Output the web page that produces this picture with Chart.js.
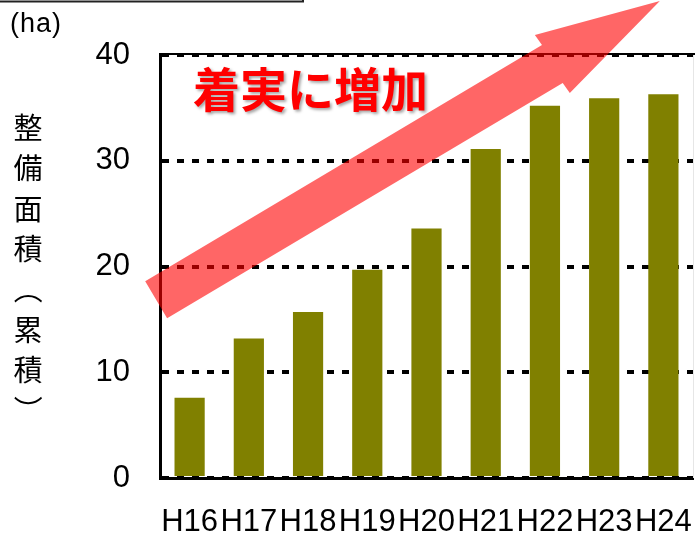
<!DOCTYPE html>
<html>
<head>
<meta charset="utf-8">
<script src="https://cdn.jsdelivr.net/npm/chart.js@4/dist/chart.umd.min.js"></script>
<style>
  html, body { margin: 0; padding: 0; background: #fff; }
  #wrap { width: 695px; height: 536px; position: relative; }
</style>
</head>
<body>
<div id="wrap"><canvas id="c" width="695" height="536"></canvas></div>
<script>
// Fiscal years (Heisei era) and cumulative developed area in hectares
const years = ['H16', 'H17', 'H18', 'H19', 'H20', 'H21', 'H22', 'H23', 'H24'];
const areaHa = [7.6, 13.2, 15.7, 19.7, 23.6, 31.1, 35.2, 35.9, 36.3];
const yTicks = [0, 10, 20, 30, 40];
const unitLabel = '(ha)';
const axisTitleChars = ['整', '備', '面', '積', '（', '累', '積', '）'];
const headline = '着実に増加';
// Trend arrow outline in data space: [category index, value]
const trendArrow = [
  [-0.75, 18.6], [-0.38, 15.1], [6.30, 37.35], [6.42, 36.4],
  [7.94, 45.1], [5.83, 41.9], [5.95, 40.95]
];

const NUM_FONT = '"Liberation Sans Narrow", "Arial Narrow", "Liberation Sans", sans-serif';
const CJK_FONT = '"Noto Sans CJK JP", "Noto Sans", sans-serif';

const decorations = {
  id: 'decorations',
  beforeDraw(chart) {
    const ctx = chart.ctx;
    ctx.save();
    ctx.fillStyle = '#fff';
    ctx.fillRect(0, 0, chart.width, chart.height);
    // bottom edge of the title box above
    ctx.strokeStyle = '#222';
    ctx.lineWidth = 2;
    ctx.strokeRect(-4, -40, 307, 41.5);
    // unit label
    ctx.fillStyle = '#000';
    ctx.font = '27px "Liberation Sans", sans-serif';
    ctx.letterSpacing = '1px';
    ctx.textAlign = 'left';
    ctx.textBaseline = 'middle';
    ctx.fillText(unitLabel, 10, 25);
    ctx.letterSpacing = '0px';
    // vertical axis title, brackets turned for vertical writing
    ctx.font = '29px ' + CJK_FONT;
    ctx.textAlign = 'center';
    axisTitleChars.forEach((ch, i) => {
      const y = 128 + i * 40.3;
      if (ch === '（' || ch === '）') {
        ctx.save();
        ctx.translate(28, y);
        ctx.rotate(Math.PI / 2);
        ctx.fillText(ch, 0, 0);
        ctx.restore();
      } else {
        ctx.fillText(ch, 28, y);
      }
    });
    ctx.restore();
  },
  afterDatasetsDraw(chart) {
    const ctx = chart.ctx;
    const { left, right, top, bottom } = chart.chartArea;
    const xs = chart.scales.x, ys = chart.scales.y;
    ctx.save();
    // solid top frame line and faint right edge
    ctx.strokeStyle = '#000';
    ctx.lineWidth = 2;
    ctx.beginPath();
    ctx.moveTo(left - 1, top - 1);
    ctx.lineTo(right + 2, top - 1);
    ctx.stroke();
    ctx.strokeStyle = '#e6e6e6';
    ctx.lineWidth = 1;
    ctx.beginPath();
    ctx.moveTo(right + 0.5, top);
    ctx.lineTo(right + 0.5, bottom);
    ctx.stroke();

    // translucent trend arrow
    ctx.fillStyle = 'rgba(255, 0, 0, 0.6)';
    ctx.beginPath();
    trendArrow.forEach(([ix, v], i) => {
      const px = xs.getPixelForValue(ix);
      const py = ys.getPixelForValue(v);
      if (i === 0) ctx.moveTo(px, py); else ctx.lineTo(px, py);
    });
    ctx.closePath();
    ctx.fill();

    // headline with drop shadow
    ctx.font = 'bold 47px ' + CJK_FONT;
    ctx.textAlign = 'left';
    ctx.textBaseline = 'middle';
    ctx.shadowColor = 'rgba(0, 0, 0, 0.35)';
    ctx.shadowOffsetX = 2;
    ctx.shadowOffsetY = 2;
    ctx.shadowBlur = 3;
    ctx.fillStyle = '#ff0000';
    ctx.fillText(headline, left + 33, 89);
    ctx.restore();
  }
};

new Chart(document.getElementById('c'), {
  type: 'bar',
  data: {
    labels: years,
    datasets: [{
      data: areaHa,
      backgroundColor: '#808000',
      borderWidth: 0,
      categoryPercentage: 1.0,
      barPercentage: 0.51
    }]
  },
  options: {
    responsive: false,
    devicePixelRatio: 1,
    animation: false,
    layout: { padding: { top: 55, left: 0, right: 2, bottom: 0 } },
    plugins: {
      legend: { display: false },
      title: { display: false },
      tooltip: { enabled: false }
    },
    scales: {
      x: {
        grid: { display: false, drawTicks: false },
        border: { display: true, color: '#000', width: 3 },
        ticks: {
          color: '#000',
          font: { family: NUM_FONT, size: 31 },
          padding: 26,
          maxRotation: 0,
          autoSkip: false
        },
        afterFit(scale) {
          scale.height = 58;
          scale.paddingLeft = 0;
          scale.paddingRight = 0;
        }
      },
      y: {
        min: 0,
        max: 40,
        afterBuildTicks(scale) { scale.ticks = yTicks.map(v => ({ value: v })); },
        grid: { color: '#000', lineWidth: 4, drawTicks: false },
        border: { display: true, color: '#000', width: 3, dash: [7, 8] },
        ticks: {
          color: '#000',
          font: { family: NUM_FONT, size: 31 },
          padding: 30
        },
        afterFit(scale) {
          scale.width = 160;
          scale.paddingTop = 0;
          scale.paddingBottom = 0;
        }
      }
    }
  },
  plugins: [decorations]
});
</script>
</body>
</html>
